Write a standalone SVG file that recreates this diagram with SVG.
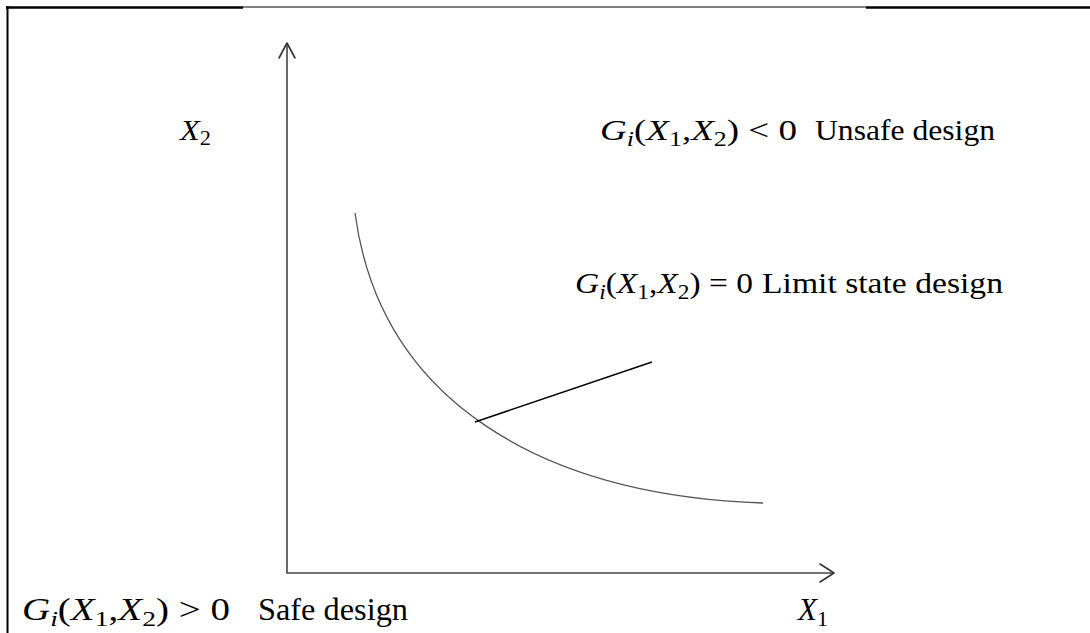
<svg xmlns="http://www.w3.org/2000/svg" width="1090" height="633" viewBox="0 0 1090 633">
<style>
.t{font-family:"Liberation Serif","Times New Roman",serif;fill:#000}
.m{font-style:italic}
.axis{stroke:#444;stroke-width:1.6;fill:none}
.head{stroke:#333;stroke-width:1.6;fill:none;stroke-linecap:round;stroke-linejoin:round}
</style>
<rect width="1090" height="633" fill="#fff"/>
<g id="frame">
<line x1="6" y1="7.5" x2="243" y2="7.5" stroke="#000" stroke-width="2.5"/>
<line x1="243" y1="7" x2="866" y2="7" stroke="#000" stroke-width="1"/>
<line x1="866" y1="7.5" x2="1090" y2="7.5" stroke="#000" stroke-width="2.5"/>
<line x1="7.5" y1="6" x2="7.5" y2="633" stroke="#000" stroke-width="2"/>
</g>
<g id="axes">
<path class="axis" d="M287,43 V573 H834"/>
<path class="head" d="M279,58 L287,43 L295,58"/>
<path class="head" d="M820,564 L834,573 L820,582"/>
</g>
<g id="curve">
<path d="M355,213 C380,400 540,495 763,503" stroke="#555" stroke-width="1.3" fill="none"/>
</g>
<g id="connectors">
<line x1="475" y1="422" x2="652" y2="362" stroke="#000" stroke-width="1.5"/>
</g>
<g id="label-x2">
<text class="t" x="180" y="140" font-size="29" textLength="31" lengthAdjust="spacingAndGlyphs"><tspan class="m">X</tspan><tspan font-size="20" dy="5">2</tspan></text>
</g>
<g id="label-unsafe">
<text class="t" x="600" y="140" font-size="30" textLength="197" lengthAdjust="spacingAndGlyphs"><tspan class="m">G</tspan><tspan class="m" font-size="21" dy="6">i</tspan><tspan dy="-6">(</tspan><tspan class="m">X</tspan><tspan font-size="21" dy="6">1</tspan><tspan dy="-6">,</tspan><tspan class="m">X</tspan><tspan font-size="21" dy="6">2</tspan><tspan dy="-6">) &lt; 0</tspan></text>
<text class="t" x="815" y="140" font-size="29" textLength="180" lengthAdjust="spacingAndGlyphs">Unsafe design</text>
</g>
<g id="label-limit">
<text class="t" x="575" y="293" font-size="30" textLength="178" lengthAdjust="spacingAndGlyphs"><tspan class="m">G</tspan><tspan class="m" font-size="21" dy="6">i</tspan><tspan dy="-6">(</tspan><tspan class="m">X</tspan><tspan font-size="21" dy="6">1</tspan><tspan dy="-6">,</tspan><tspan class="m">X</tspan><tspan font-size="21" dy="6">2</tspan><tspan dy="-6">) = 0</tspan></text>
<text class="t" x="762" y="293" font-size="29" textLength="241" lengthAdjust="spacingAndGlyphs">Limit state design</text>
</g>
<g id="label-safe">
<text class="t" x="22" y="620" font-size="31" textLength="208" lengthAdjust="spacingAndGlyphs"><tspan class="m">G</tspan><tspan class="m" font-size="22" dy="6">i</tspan><tspan dy="-6">(</tspan><tspan class="m">X</tspan><tspan font-size="22" dy="6">1</tspan><tspan dy="-6">,</tspan><tspan class="m">X</tspan><tspan font-size="22" dy="6">2</tspan><tspan dy="-6">) &gt; 0</tspan></text>
<text class="t" x="258" y="620" font-size="31" textLength="150" lengthAdjust="spacingAndGlyphs">Safe design</text>
</g>
<g id="label-x1">
<text class="t" x="798" y="620" font-size="31" textLength="30" lengthAdjust="spacingAndGlyphs"><tspan class="m">X</tspan><tspan font-size="22" dy="6">1</tspan></text>
</g>
</svg>
